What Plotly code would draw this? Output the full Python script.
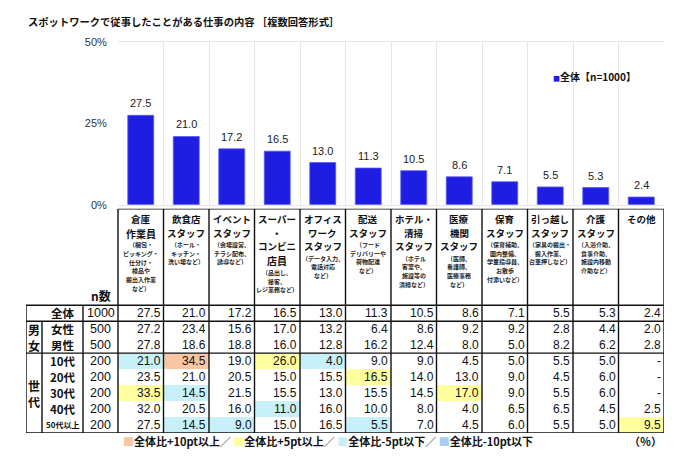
import plotly.graph_objects as go

W, H = 693, 476

categories = ["倉庫作業員", "飲食店スタッフ", "イベントスタッフ", "スーパー・コンビニ店員",
              "オフィスワークスタッフ", "配送スタッフ", "ホテル・清掃スタッフ", "医療機関スタッフ",
              "保育スタッフ", "引っ越しスタッフ", "介護スタッフ", "その他"]
overall = [27.5, 21.0, 17.2, 16.5, 13.0, 11.3, 10.5, 8.6, 7.1, 5.5, 5.3, 2.4]
female = [27.2, 23.4, 15.6, 17.0, 13.2, 6.4, 8.6, 9.2, 9.2, 2.8, 4.4, 2.0]
male = [27.8, 18.6, 18.8, 16.0, 12.8, 16.2, 12.4, 8.0, 5.0, 8.2, 6.2, 2.8]
age10 = [21.0, 34.5, 19.0, 26.0, 4.0, 9.0, 9.0, 4.5, 5.0, 5.5, 5.0, None]
age20 = [23.5, 21.0, 20.5, 15.0, 15.5, 16.5, 14.0, 13.0, 9.0, 4.5, 6.0, None]
age30 = [33.5, 14.5, 21.5, 15.5, 13.0, 15.5, 14.5, 17.0, 9.0, 5.5, 6.0, None]
age40 = [32.0, 20.5, 16.0, 11.0, 16.0, 10.0, 8.0, 4.0, 6.5, 6.5, 4.5, 2.5]
age50 = [27.5, 14.5, 9.0, 15.0, 16.5, 5.5, 7.0, 4.5, 6.0, 5.5, 5.0, 9.5]

row_labels = ["全体", "女性", "男性", "10代", "20代", "30代", "40代", "50代以上"]
row_n = [1000, 500, 500, 200, 200, 200, 200, 200]
row_values = [overall, female, male, age10, age20, age30, age40, age50]
groups = [("男<br>女", 1, 3), ("世<br>代", 3, 8)]

head_main = [["倉庫", "作業員"], ["飲食店", "スタッフ"], ["イベント", "スタッフ"],
             ["スーパー", "・", "コンビニ", "店員"], ["オフィス", "ワーク", "スタッフ"],
             ["配送", "スタッフ"], ["ホテル・", "清掃", "スタッフ"], ["医療", "機関", "スタッフ"],
             ["保育", "スタッフ"], ["引っ越し", "スタッフ"], ["介護", "スタッフ"], ["その他"]]
head_sub = [["（梱包・", "ピッキング・", "仕分け・", "検品や", "搬出入作業", "など）"],
            ["（ホール・", "キッチン・", "洗い場など）"],
            ["（会場設営、", "チラシ配布、", "誘導など）"],
            ["（品出し、", "接客、", "レジ業務など）"],
            ["（データ入力、", "電話対応", "など）"],
            ["（フード", "デリバリーや", "荷物配達", "など）"],
            ["（ホテル", "客室や、", "施設等の", "清掃など）"],
            ["（医師、", "看護師、", "医療事務", "など）"],
            ["（保育補助、", "園内整備、", "学童指導員、", "お散歩", "付添いなど）"],
            ["（家具の搬出・", "搬入作業、", "台車押しなど）"],
            ["（入浴介助、", "食事介助、", "施設内移動", "介助など）"],
            []]
big_lines = {"作業員", "店員"}

legend_items = [("全体比+10pt以上", "#F8C6A0"), ("全体比+5pt以上", "#FFFFA0"),
                ("全体比-5pt以下", "#C8F0F8"), ("全体比-10pt以下", "#A8CCF0")]

BAR_COLOR = "#1E1EE2"
JP = "Noto Sans CJK JP"
NUM = "Liberation Sans"


def fx(px):
    return px / W


def fy(py):
    return 1 - py / H


def hl_color(v, base):
    if v is None:
        return None
    d = round(v - base, 2)
    if d >= 10:
        return legend_items[0][1]
    if d >= 5:
        return legend_items[1][1]
    if d <= -10:
        return legend_items[3][1]
    if d <= -5:
        return legend_items[2][1]
    return None


fig = go.Figure()
fig.add_trace(go.Bar(x=categories, y=overall, width=0.57,
                     marker=dict(color=BAR_COLOR, line=dict(color="#5a5af0", width=0.8)),
                     name="全体【n=1000】", hoverinfo="skip", xaxis="x", yaxis="y"))
fig.add_trace(go.Scatter(x=[None], y=[None], xaxis="x2", yaxis="y2", showlegend=False,
                         hoverinfo="skip"))

ann = []
shapes = []

# bar labels
for c, v in zip(categories, overall):
    ann.append(dict(x=c, y=v, xref="x", yref="y", text=f"{v:.1f}", showarrow=False,
                    yanchor="bottom", yshift=4, font=dict(family=NUM, size=11, color="#222")))

# title
ann.append(dict(x=fx(26), y=fy(16), xref="paper", yref="paper", xanchor="left", yanchor="middle",
                text="<b>スポットワークで従事したことがある仕事の内容 ［複数回答形式］</b>",
                showarrow=False, font=dict(family=JP, size=10.3, color="#111")))
# bar legend
ann.append(dict(x=fx(551), y=fy(72), xref="paper", yref="paper", xanchor="left", yanchor="middle",
                text=f"<span style='color:{BAR_COLOR};font-size:7px'>■</span><b>全体【n=1000】</b>",
                showarrow=False, font=dict(family=JP, size=10, color="#111")))

# table geometry (column units / row units)
COLW = (664 - 118) / 12
ROWH = (438 - 307) / 8
XL = -0.5 - (118 - 26) / COLW
XG = -0.5 - (118 - 42) / COLW
XN = -0.5 - (118 - 83) / COLW
HDR = (307 - 208) / ROWH
ncol = len(categories)
nrow = len(row_labels)

# highlight cells
for r in range(1, nrow):
    for c in range(ncol):
        col = hl_color(row_values[r][c], overall[c])
        if col:
            shapes.append(dict(type="rect", xref="x2", yref="y2", x0=c - 0.5, x1=c + 0.5,
                               y0=r, y1=r + 1, fillcolor=col, line=dict(width=0), layer="below"))

LW = 1.4
LC = "#111"


def vline(x, y0, y1, w=LW):
    shapes.append(dict(type="line", xref="x2", yref="y2", x0=x, x1=x, y0=y0, y1=y1,
                       line=dict(color=LC, width=w)))


def hline(y, x0, x1, w=LW):
    shapes.append(dict(type="line", xref="x2", yref="y2", x0=x0, x1=x1, y0=y, y1=y,
                       line=dict(color=LC, width=w)))


for c in range(-1, ncol):
    vline(c + 0.5, -HDR, nrow)
vline(XL, 0, nrow)
vline(XG, 1, nrow)
vline(XN, 0, nrow)
hline(-HDR, -0.5, ncol - 0.5)
hline(0, XL, ncol - 0.5)
for g in groups:
    hline(g[1], XL, ncol - 0.5)
hline(nrow, XL, ncol - 0.5)

# header text
for c in range(ncol):
    yoff = 10
    first = True
    for line in head_main[c]:
        size = 9.5
        if line in big_lines:
            size = 10
            yoff += 0.5
        if head_main[c] == ["その他"]:
            size = 9.5
        ann.append(dict(x=c, y=-HDR, xref="x2", yref="y2", text=f"<b>{line}</b>", showarrow=False,
                        yanchor="middle", yshift=-yoff, borderpad=0,
                        font=dict(family=JP, size=size, color="#111")))
        yoff += 13.8
    yoff += -13.8 + 11.8
    for line in head_sub[c]:
        ann.append(dict(x=c, y=-HDR, xref="x2", yref="y2", text=f"<b>{line}</b>", showarrow=False,
                        yanchor="middle", yshift=-yoff, borderpad=0,
                        font=dict(family=JP, size=6, color="#222")))
        yoff += 8.7

ann.append(dict(x=(XN - 0.5) / 2, y=0, xref="x2", yref="y2", text="<b>n数</b>", showarrow=False,
                yanchor="bottom", yshift=-1, font=dict(family=JP, size=12, color="#111")))

# body
for r in range(nrow):
    lab = row_labels[r]
    ann.append(dict(x=(XG + XN) / 2, y=r + 0.5, xref="x2", yref="y2", text=f"<b>{lab}</b>",
                    showarrow=False, yanchor="middle", borderpad=0,
                    font=dict(family=JP, size=8 if len(lab) > 3 else 11.5, color="#111")))
    ann.append(dict(x=(XN - 0.5) / 2, y=r + 0.5, xref="x2", yref="y2", text=str(row_n[r]),
                    showarrow=False, yanchor="middle", borderpad=0,
                    font=dict(family=NUM, size=12.5, color="#111")))
    for c in range(ncol):
        v = row_values[r][c]
        txt = "-" if v is None else f"{v:.1f}"
        ann.append(dict(x=c + 0.5, y=r + 0.5, xref="x2", yref="y2", text=txt, showarrow=False,
                        xanchor="right", yanchor="middle", xshift=-2, borderpad=0,
                        font=dict(family=NUM, size=12, color="#111")))
for g in groups:
    ann.append(dict(x=(XL + XG) / 2, y=(g[1] + g[2]) / 2, xref="x2", yref="y2", text=f"<b>{g[0]}</b>",
                    showarrow=False, yanchor="middle", borderpad=0,
                    font=dict(family=JP, size=12, color="#111")))

# bottom legend
leg_txt = "／ ".join(f"<span style='color:{col}'>■</span><b>{t}</b>" for t, col in legend_items)
ann.append(dict(x=fx(121), y=fy(446), xref="paper", yref="paper", xanchor="left", yanchor="middle",
                text=leg_txt, showarrow=False, font=dict(family=JP, size=11, color="#111")))
ann.append(dict(x=fx(664), y=fy(446), xref="paper", yref="paper", xanchor="right", yanchor="middle",
                text="<b>（％）</b>", showarrow=False, font=dict(family=JP, size=11, color="#111")))

fig.update_layout(
    width=W, height=H, margin=dict(l=0, r=0, t=0, b=0),
    paper_bgcolor="white", plot_bgcolor="white", showlegend=False,
    xaxis=dict(domain=[fx(118), fx(664)], anchor="y", type="category", tickson="boundaries",
               showgrid=True, gridcolor="#e6e6e6", gridwidth=1, showticklabels=False, ticks="",
               showline=True, mirror=True, linecolor="#e6e6e6", range=[-0.5, 11.5], fixedrange=True),
    yaxis=dict(domain=[fy(204), fy(37)], anchor="x", range=[0, 50], tickvals=[0, 25, 50],
               ticktext=["0%", "25%", "50%"], showgrid=False, zeroline=False,
               ticks="outside", ticklen=8, tickcolor="rgba(0,0,0,0)",
               tickfont=dict(family=NUM, size=11, color="#333"), fixedrange=True),
    xaxis2=dict(domain=[fx(26), fx(664)], anchor="y2", range=[XL, ncol - 0.5], visible=False),
    yaxis2=dict(domain=[fy(438), fy(208)], anchor="x2", range=[nrow, -HDR], visible=False),
    annotations=ann, shapes=shapes, bargap=0.43,
)

fig.write_html("out.html")
